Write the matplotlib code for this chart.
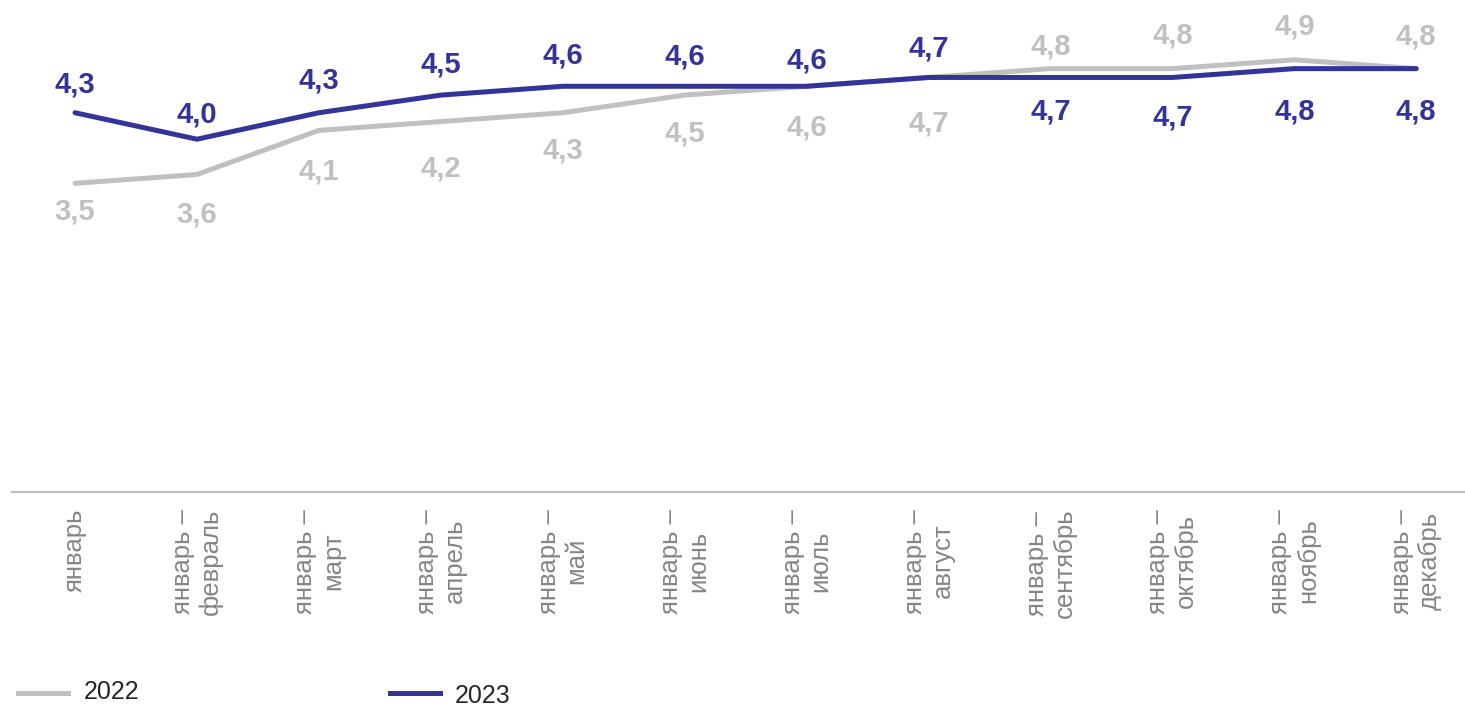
import numpy as np
import matplotlib
matplotlib.use("Agg")
import matplotlib.pyplot as plt
from matplotlib.lines import Line2D

plt.rcParams['font.family'] = ['Liberation Sans', 'DejaVu Sans']

# ----------------------------------- данные -------------------------------------------------------------
periods = ['январь', 'январь –\nфевраль', 'январь –\nмарт', 'январь –\nапрель', 'январь –\nмай',
           'январь –\nиюнь', 'январь –\nиюль', 'январь –\nавгуст', 'январь –\nсентябрь',
           'январь –\nоктябрь', 'январь –\nноябрь', 'январь –\nдекабрь']
values_2022 = [3.5, 3.6, 4.1, 4.2, 4.3, 4.5, 4.6, 4.7, 4.8, 4.8, 4.9, 4.8]
values_2023 = [4.3, 4.0, 4.3, 4.5, 4.6, 4.6, 4.6, 4.7, 4.7, 4.7, 4.8, 4.8]

# смещение центра подписи от точки, px (минус - выше линии)
shift_2022 = [26, 38, 39, 44, 35, 36, 39, 44, -25, -36, -36, -35]
shift_2023 = [-31, -27, -35, -33, -33, -32, -28, -31, 32, 38, 40, 40]

color_2022 = '#c0c0c0'
color_2023 = '#333399'

W, H, DPI = 1465, 706, 100
PX = 72 / DPI   # пикселей -> пунктов
LABEL_FS = 21
half_digit = 0.716 * LABEL_FS / PX / 2   # половина высоты цифры, px

fig = plt.figure(figsize=(W / DPI, H / DPI), dpi=DPI)
ax = fig.add_axes([12 / W, (H - 492) / H, (W - 12) / W, 492 / H])

x = np.arange(len(periods))
ax.plot(x, values_2022, color=color_2022, linewidth=3.6, solid_capstyle='round', zorder=2)
ax.plot(x, values_2023, color=color_2023, linewidth=3.6, solid_capstyle='round', zorder=3)

for vals, shifts, col in [(values_2022, shift_2022, color_2022), (values_2023, shift_2023, color_2023)]:
    for xi, v, s in zip(x, vals, shifts):
        ax.annotate(f'{v:.1f}'.replace('.', ','), (xi, v),
                    xytext=(0, -(s + half_digit) * PX), textcoords='offset points',
                    ha='center', va='baseline', fontsize=LABEL_FS, fontweight='bold', color=col)

ax.set_xlim(-0.517, 11.40)
ax.set_ylim(0, 492 / 88.2)
ax.set_xticks(x)
ax.set_xticklabels(periods, rotation=90, ha='center', va='top', multialignment='center',
                   fontsize=18.5, color='#858585')
ax.tick_params(axis='x', length=0, pad=12)
ax.set_yticks([])
for side in ['top', 'left', 'right']:
    ax.spines[side].set_visible(False)
ax.spines['bottom'].set_color('#bfbfbf')
ax.spines['bottom'].set_linewidth(1.6)
ax.patch.set_alpha(0)

# легенда
fig.add_artist(Line2D([18 / W, 68 / W], [1 - 693 / H, 1 - 693 / H], color=color_2022, linewidth=3.6))
fig.text(84 / W, 1 - 692 / H, '2022', fontsize=18, color='#262626', va='center', ha='left')
fig.add_artist(Line2D([390 / W, 440 / W], [1 - 693 / H, 1 - 693 / H], color=color_2023, linewidth=3.6))
fig.text(455 / W, 1 - 696 / H, '2023', fontsize=18, color='#262626', va='center', ha='left')

fig.savefig('out.png', dpi=DPI)
